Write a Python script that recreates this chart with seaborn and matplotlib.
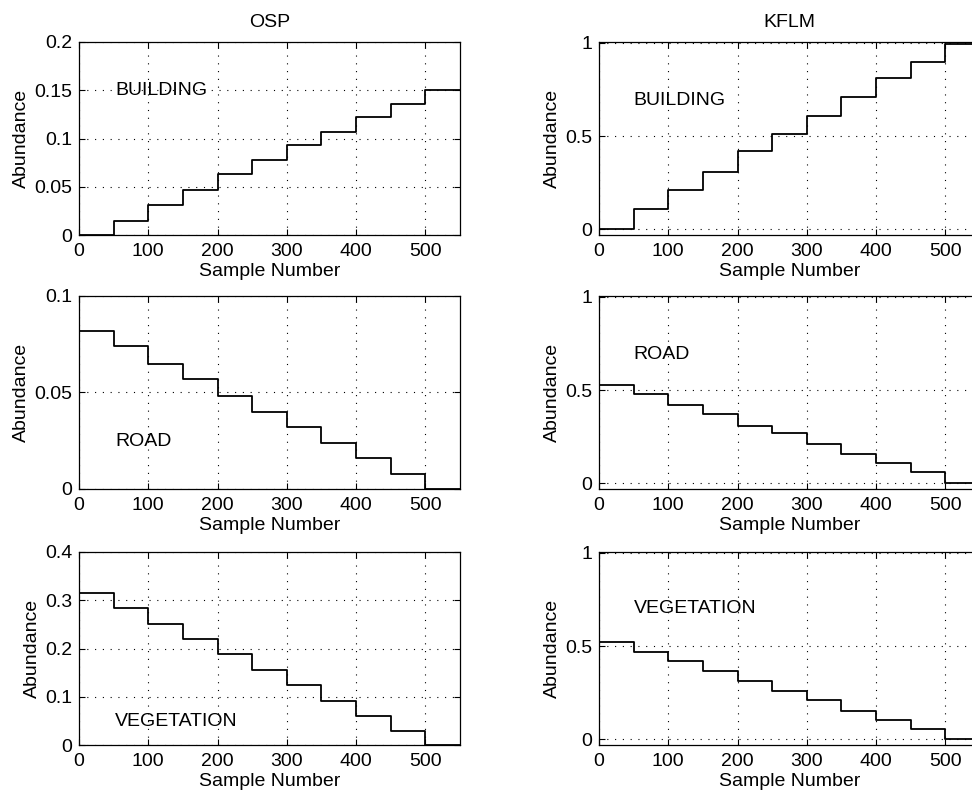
import numpy as np
import pandas as pd
import matplotlib
matplotlib.use("Agg")
import matplotlib.pyplot as plt
import seaborn as sns
from matplotlib.ticker import FuncFormatter

# ---- data (step levels, one level per 50 samples) ----
segment_starts = [0, 50, 100, 150, 200, 250, 300, 350, 400, 450, 500]
last_sample = 550

osp_building = [0.000, 0.015, 0.031, 0.047, 0.063, 0.078, 0.093, 0.107, 0.122, 0.136, 0.150]
osp_road = [0.082, 0.074, 0.065, 0.057, 0.048, 0.040, 0.032, 0.024, 0.016, 0.008, 0.000]
osp_vegetation = [0.316, 0.283, 0.251, 0.220, 0.188, 0.155, 0.124, 0.092, 0.061, 0.029, 0.000]

kflm_building = [0.000, 0.11, 0.21, 0.31, 0.42, 0.51, 0.61, 0.71, 0.81, 0.90, 0.995]
kflm_road = [0.53, 0.48, 0.42, 0.37, 0.31, 0.27, 0.21, 0.16, 0.11, 0.06, 0.00]
kflm_vegetation = [0.525, 0.47, 0.42, 0.365, 0.315, 0.26, 0.21, 0.155, 0.105, 0.055, 0.00]

column_titles = ["OSP", "KFLM"]
row_labels = ["BUILDING", "ROAD", "VEGETATION"]
x_ticks = [0, 100, 200, 300, 400, 500]

sns.set_theme(style="ticks")
plt.rcParams['font.family'] = ['Liberation Sans', 'DejaVu Sans']
plt.rcParams['xtick.direction'] = 'in'
plt.rcParams['ytick.direction'] = 'in'
plt.rcParams['axes.edgecolor'] = 'black'
plt.rcParams['axes.linewidth'] = 0.9
plt.rcParams['text.color'] = 'black'
plt.rcParams['axes.labelcolor'] = 'black'
plt.rcParams['xtick.color'] = 'black'
plt.rcParams['ytick.color'] = 'black'

FS = 14

fig = plt.figure(figsize=(9.72, 8.0), dpi=100)

col_left = [79 / 972, 599 / 972]
col_width = 381 / 972
row_bottom = [1 - 235 / 800, 1 - 489 / 800, 1 - 745 / 800]
row_height = 193 / 800

panels = [
    # (row, col, data, ylim, yticks, text_x, text_y)
    (0, 0, osp_building, (0, 0.2), [0, 0.05, 0.1, 0.15, 0.2], 52, 0.150),
    (1, 0, osp_road, (0, 0.1), [0, 0.05, 0.1], 52, 0.0245),
    (2, 0, osp_vegetation, (0, 0.4), [0, 0.1, 0.2, 0.3, 0.4], 52, 0.048),
    (0, 1, kflm_building, (-0.03, 1.005), [0, 0.5, 1], 50, 0.69),
    (1, 1, kflm_road, (-0.03, 1.005), [0, 0.5, 1], 50, 0.69),
    (2, 1, kflm_vegetation, (-0.03, 1.005), [0, 0.5, 1], 50, 0.70),
]

fmt = FuncFormatter(lambda v, p: f"{v:g}")

for r, c, levels, ylim, yticks, tx, ty in panels:
    ax = fig.add_axes([col_left[c], row_bottom[r], col_width, row_height])
    df = pd.DataFrame({
        "Sample Number": segment_starts + [last_sample],
        "Abundance": levels + [levels[-1]],
    })
    sns.lineplot(data=df, x="Sample Number", y="Abundance", ax=ax,
                 color="black", linewidth=1.3, drawstyle="steps-post")
    ax.set_xlim(0, 550)
    ax.set_ylim(*ylim)
    ax.set_xticks(x_ticks)
    ax.set_yticks(yticks)
    ax.xaxis.set_major_formatter(fmt)
    ax.yaxis.set_major_formatter(fmt)
    ax.tick_params(labelsize=FS, length=4, width=0.8, top=True, right=True,
                   colors="black")
    ax.tick_params(axis="x", pad=6)
    ax.tick_params(axis="y", pad=5)
    ax.grid(True, linestyle=(0, (1, 6)), color="black", linewidth=0.8)
    ax.set_xlabel("Sample Number", fontsize=FS, labelpad=2)
    ax.set_ylabel("Abundance", fontsize=FS, labelpad=3)
    ax.text(tx, ty, row_labels[r], fontsize=FS, va="center", ha="left")
    for s in ax.spines.values():
        s.set_visible(True)
    if r == 0:
        ax.set_title(column_titles[c], fontsize=FS, pad=11)

fig.savefig("out.png", dpi=100)
